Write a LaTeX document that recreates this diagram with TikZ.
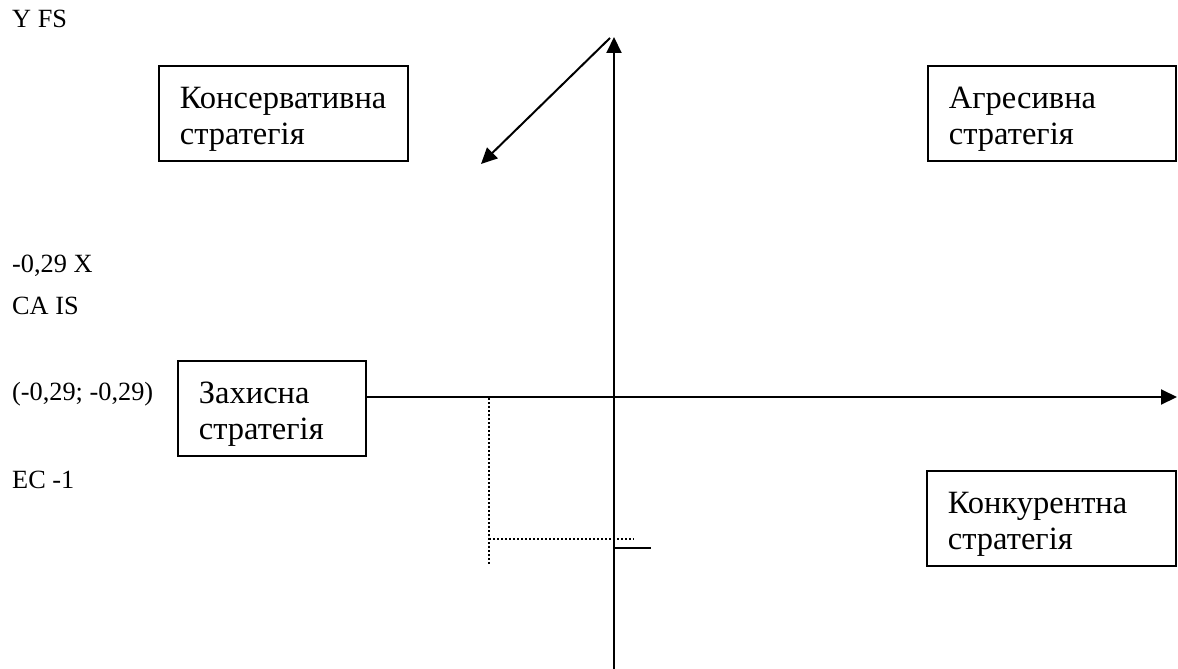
\documentclass[tikz,border=0pt]{standalone}
\usepackage{fontspec}
\setmainfont{Liberation Serif}
\usetikzlibrary{arrows.meta}
\newcommand{\topstrut}{\rule{0pt}{33pt}}
\begin{document}
\begin{tikzpicture}[x=1pt,y=-1pt,
  box/.style={draw,line width=1.8pt,minimum height=95pt,inner xsep=21pt,inner ysep=0pt,
    align=left,font=\fontsize{32.5}{36}\selectfont,anchor=north west},
  lbl/.style={anchor=base west,inner sep=0pt,font=\fontsize{26.3}{30}\selectfont},
  axis/.style={line width=2pt,-{Triangle[length=16pt,width=15pt]}},
  dots/.style={line width=1.6pt,dash pattern=on 1.6pt off 2.4pt},
  tick/.style={line width=1.8pt}]
\useasboundingbox (0,0) rectangle (1178,669);
% labels
\node[lbl] (l1) at (12,28) {Y FS};
\node[lbl] (l2) at (12,272) {-0,29 X};
\node[lbl] (l3) at (12,314) {CA IS};
\node[lbl] (l4) at (12,400) {(-0,29; -0,29)};
\node[lbl] (l5) at (12,488) {EC -1};
% boxes
\node[box,text width=207pt] (cons) at (158,65) {\topstrut Консервативна\\стратегія};
\node[box,text width=206pt] (aggr) at (927,65) {\topstrut Агресивна\\стратегія};
\node[box,text width=146pt] (zakh) at (177,360) {\topstrut Захисна\\стратегія};
\node[box,text width=207pt] (konk) at (926,470) {\topstrut Конкурентна\\стратегія};
% axes
\coordinate (xend) at (1177,397);
\coordinate (ybot) at (614,669);
\coordinate (ytop) at (614,37);
\coordinate (dstart) at (610,38);
\coordinate (dend) at (481,164);
\draw[axis] (zakh.east |- xend) -- (xend);
\draw[axis] (ybot) -- (ytop);
\draw[axis] (dstart) -- (dend);
% dotted guides
\coordinate (d1) at (489,398);
\coordinate (d2) at (489,564);
\coordinate (d3) at (489,539);
\coordinate (d4) at (634,539);
\draw[dots] (d1) -- (d2);
\draw[dots] (d3) -- (d4);
\coordinate (t1) at (613,548);
\coordinate (t2) at (651,548);
\draw[tick] (t1) -- (t2);
\end{tikzpicture}
\end{document}
